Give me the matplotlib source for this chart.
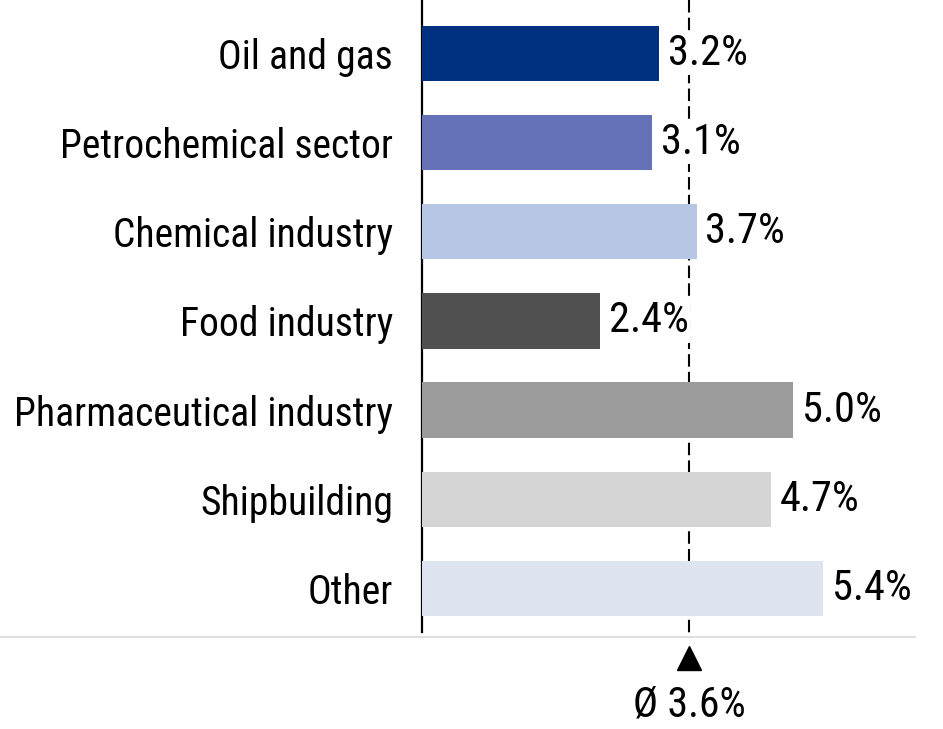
import matplotlib
matplotlib.use("Agg")
import matplotlib.pyplot as plt
from matplotlib.lines import Line2D

# Arial Narrow look-alike
plt.rcParams["font.family"] = ["Roboto Condensed", "Liberation Sans", "DejaVu Sans"]

categories = ["Oil and gas", "Petrochemical sector", "Chemical industry", "Food industry",
              "Pharmaceutical industry", "Shipbuilding", "Other"]
values = [3.2, 3.1, 3.7, 2.4, 5.0, 4.7, 5.4]
avg_value = 3.6
avg_label = "Ø 3.6%"
colors = ["#003180", "#6672b8", "#b8c6e6", "#505050", "#9b9b9b", "#d5d5d5", "#dee4ef"]

FS = 28.5      # category labels
FS_VAL = 30.5  # value labels

fig = plt.figure(figsize=(9.43, 7.29), dpi=100)
ax = fig.add_axes([422 / 943, 1 - 632 / 729, (915 - 422) / 943, 632 / 729])

ypos = list(range(len(categories)))
ax.barh(ypos, values, height=0.62, color=colors, zorder=3)

ax.set_ylim(6.49, -0.6)
ax.set_xlim(0, (915 - 422) / 74.2)

# average line, runs a bit below the axes
ax.plot([avg_value, avg_value], [-0.6, 6.55], color="black", lw=1.5,
        linestyle=(0, (6, 2.5)), zorder=1, clip_on=False)

for y, v in zip(ypos, values):
    ax.text(v + 0.12, y, "{:.1f}%".format(v), va="center", ha="left", fontsize=FS_VAL,
            bbox=dict(facecolor="white", edgecolor="none", pad=1), zorder=4)

ax.set_yticks(ypos)
ax.set_yticklabels(categories, fontsize=FS)
ax.tick_params(axis="y", length=0, pad=21)
ax.set_xticks([])

for s in ["top", "right", "bottom"]:
    ax.spines[s].set_visible(False)
ax.spines["left"].set_linewidth(1.6)

# marker + label for the average
ax.plot([avg_value], [6.78], marker="^", color="black", markersize=17, clip_on=False)
ax.text(avg_value, 7.31, avg_label, ha="center", va="center", fontsize=30)

# thin gray baseline across the figure
fig.add_artist(Line2D([0, 915 / 943], [1 - 637 / 729, 1 - 637 / 729],
                      transform=fig.transFigure, color="#d9d9d9", lw=1.2))

fig.savefig("out.png", dpi=100)
